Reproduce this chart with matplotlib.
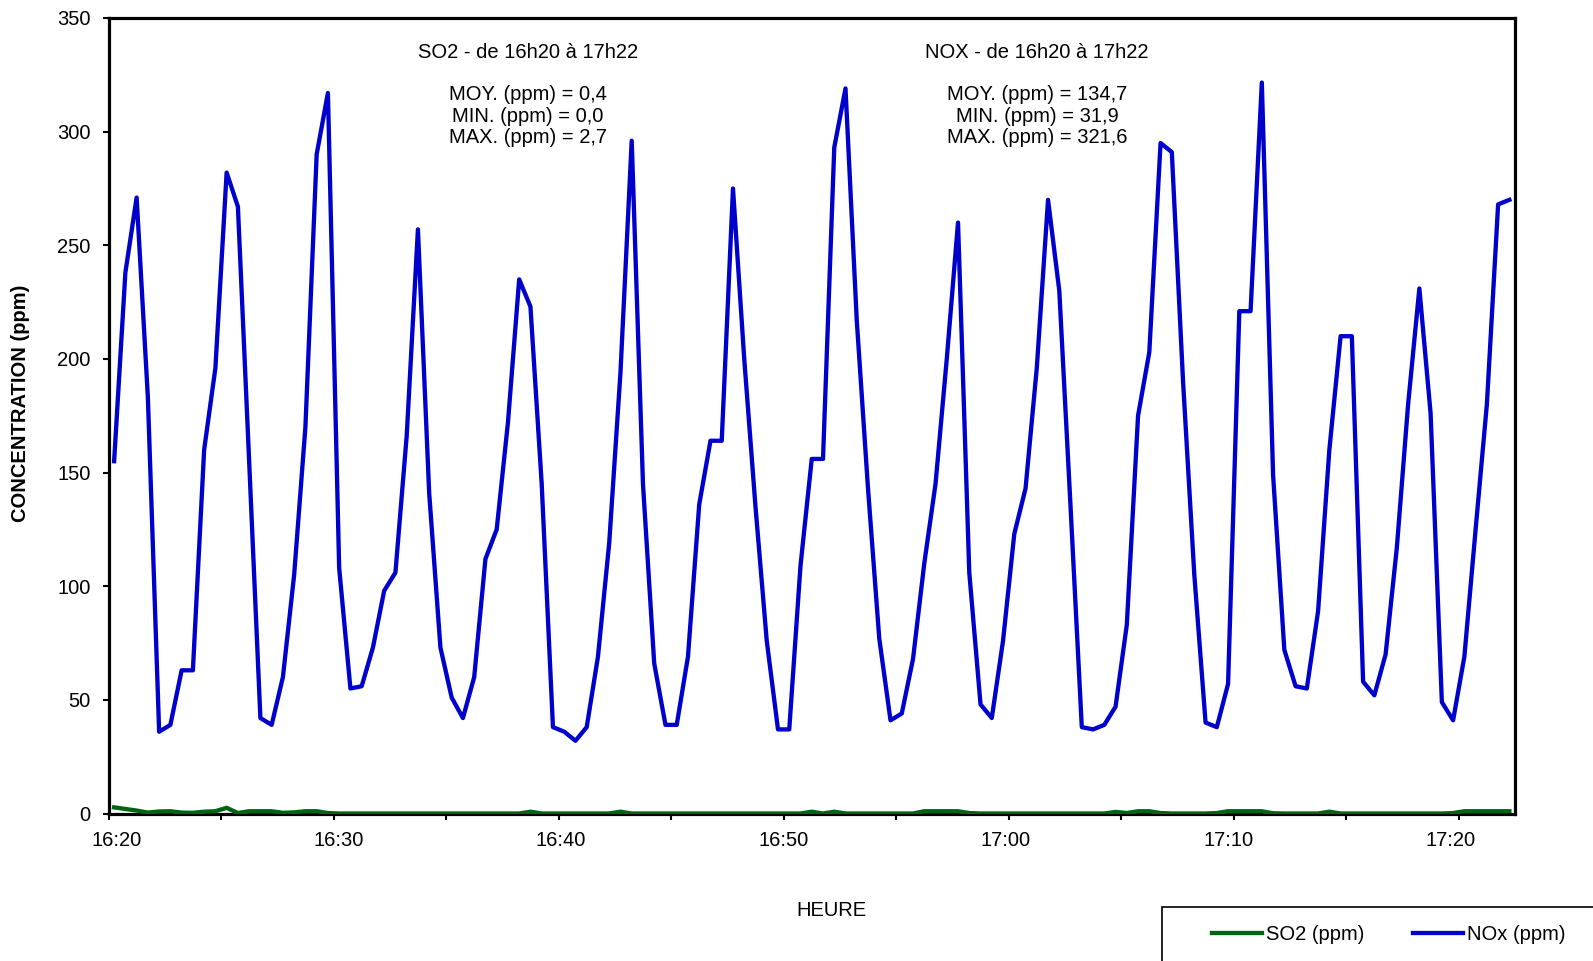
import matplotlib
matplotlib.use("Agg")
import matplotlib.pyplot as plt
from matplotlib.patches import Rectangle
from matplotlib.lines import Line2D

plt.rcParams['font.family'] = ['Liberation Sans', 'DejaVu Sans']

# ---------------- data (~30 s readings, 16:20 -> 17:22) ----------------
nox = [155, 238, 271, 183, 36, 39, 63, 63, 160, 196,
       282, 267, 155, 42, 39, 60, 105, 170, 290, 317,
       108, 55, 56, 73, 98, 106, 166, 257, 141, 73,
       51, 42, 60, 112, 125, 172, 235, 223, 145, 38,
       36, 32, 38, 69, 119, 194, 296, 145, 66, 39,
       39, 69, 136, 164, 164, 275, 200, 135, 76, 37,
       37, 109, 156, 156, 293, 319, 217, 143, 77, 41,
       44, 68, 110, 145, 200, 260, 106, 48, 42, 76,
       123, 143, 196, 270, 230, 135, 38, 37, 39, 47,
       83, 175, 203, 295, 291, 190, 105, 40, 38, 57,
       221, 221, 321.6, 149, 72, 56, 55, 89, 160, 210,
       210, 58, 52, 70, 117, 180, 231, 176, 49, 41,
       69, 125, 180, 268, 270]

so2 = [2.7, 2.0, 1.3, 0.4, 0.9, 1.0, 0.4, 0.3, 0.8, 1.0,
       2.5, 0.2, 1.0, 1.0, 1.0, 0.3, 0.5, 1.0, 1.0, 0.2,
       0, 0, 0, 0, 0, 0, 0, 0, 0, 0,
       0, 0, 0, 0, 0, 0, 0, 0.8, 0, 0,
       0, 0, 0, 0, 0, 0.8, 0, 0, 0, 0,
       0, 0, 0, 0, 0, 0, 0, 0, 0, 0,
       0, 0, 0.8, 0, 0.8, 0, 0, 0, 0, 0,
       0, 0, 1.0, 1.0, 1.0, 1.0, 0.2, 0, 0, 0,
       0, 0, 0, 0, 0, 0, 0, 0, 0, 0.7,
       0.2, 1.0, 1.0, 0.2, 0, 0, 0, 0, 0.2, 1.0,
       1.0, 1.0, 1.0, 0.1, 0, 0, 0, 0, 0.8, 0,
       0, 0, 0, 0, 0, 0, 0, 0, 0, 0.2,
       1.0, 1.0, 1.0, 1.0, 1.0]

time_labels = ['16:20', '16:30', '16:40', '16:50', '17:00', '17:10', '17:20']
label_minutes = [0, 10, 20, 30, 40, 50, 60]   # minutes after 16:20
sample_interval_s = 30.35                      # logger interval
first_sample_s = -5.5                          # first reading, s after 16:20
tick_every = 10                                # tick mark every 10 readings

so2_text = "SO2 - de 16h20 à 17h22\n\nMOY. (ppm) = 0,4\nMIN. (ppm) = 0,0\nMAX. (ppm) = 2,7"
nox_text = "NOX - de 16h20 à 17h22\n\nMOY. (ppm) = 134,7\nMIN. (ppm) = 31,9\nMAX. (ppm) = 321,6"

FS = 14.5

# ---------------- figure ----------------
W, H = 1593, 961
fig = plt.figure(figsize=(W / 100, H / 100), dpi=100)
L, R, T, B = 108.5, 1515, 18, 813.5
ax = fig.add_axes([L / W, 1 - B / H, (R - L) / W, (B - T) / H])

n = len(nox)
x = list(range(n))
ax.plot(x, so2, color='#006414', lw=3.1, solid_joinstyle='round', zorder=3)
ax.plot(x, nox, color='#0000CC', lw=3.1, solid_joinstyle='round', zorder=4)

ax.set_xlim(-0.5, n - 0.5)
ax.set_ylim(0, 350)
ax.set_yticks(range(0, 351, 50))

ax.set_xticks([k - 0.5 for k in range(0, n, tick_every)])
ax.set_xticklabels([])
label_pos = [(m * 60 - first_sample_s) / sample_interval_s for m in label_minutes]
ax.set_xticks(label_pos, minor=True)
ax.set_xticklabels(time_labels, minor=True)

for s in ax.spines.values():
    s.set_linewidth(2.3)
ax.tick_params(axis='both', which='major', direction='out', length=4.2, width=1.5,
               labelsize=FS, colors='black')
ax.tick_params(axis='y', pad=8.5)
ax.tick_params(axis='x', which='minor', length=0, pad=12.5, labelsize=FS)

fig.text(20.5 / W, 1 - 403 / H, 'CONCENTRATION (ppm)', rotation=90, ha='center',
         va='center', fontsize=FS, fontweight='bold')
fig.text(831 / W, 1 - 910 / H, 'HEURE', ha='center', va='center', fontsize=FS)

fig.text(528 / W, 1 - 95 / H, so2_text, ha='center', va='center',
         multialignment='center', fontsize=FS, linespacing=1.15)
fig.text(1037 / W, 1 - 95 / H, nox_text, ha='center', va='center',
         multialignment='center', fontsize=FS, linespacing=1.15)

# legend (box runs off the bottom-right of the figure)
fig.patches.append(Rectangle((1161.6 / W, -0.05), 0.3, 1 - 906.5 / H + 0.05,
                             transform=fig.transFigure, fill=False,
                             edgecolor='black', lw=1.2))
handles = [Line2D([], [], color='#006414', lw=3.1),
           Line2D([], [], color='#0000CC', lw=3.1)]
fig.legend(handles, ['SO2 (ppm)', 'NOx (ppm)'], loc='center left',
           bbox_to_anchor=(1212 / W, 1 - 935 / H), ncol=2, frameon=False,
           fontsize=FS, handlelength=2.5, handletextpad=0.2,
           columnspacing=2.4, borderpad=0, borderaxespad=0)

fig.savefig('out.png', dpi=100)
